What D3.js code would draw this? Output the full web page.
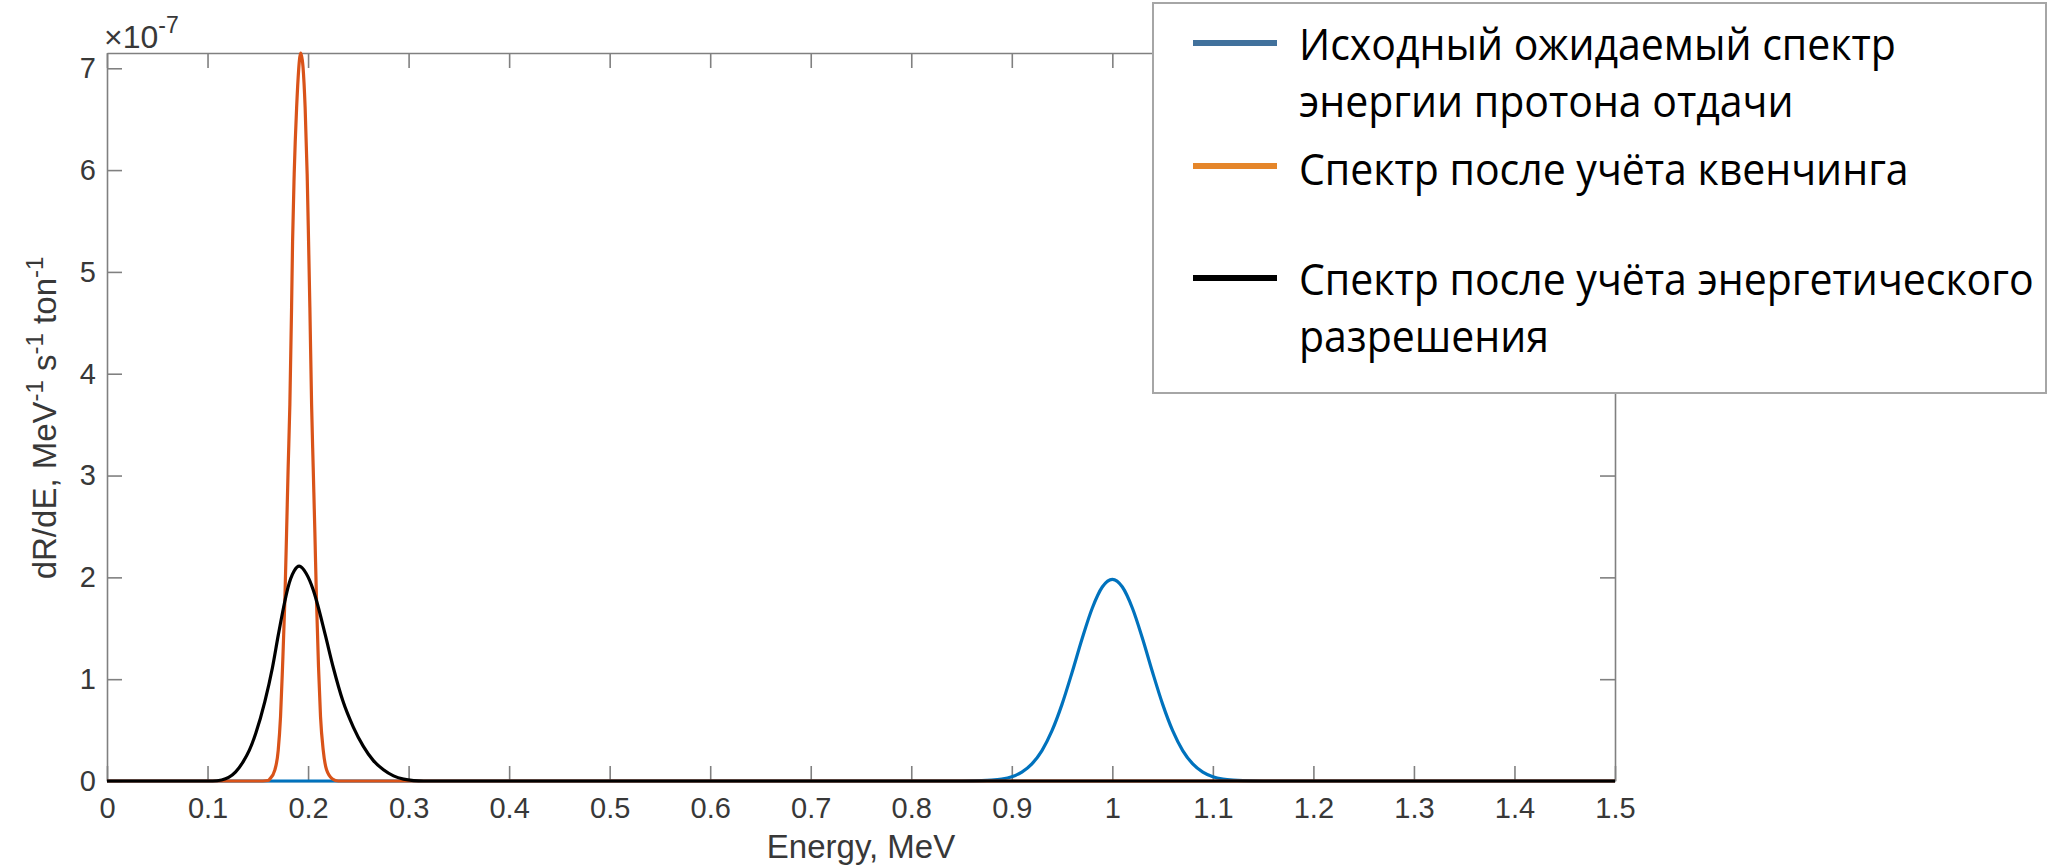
<!DOCTYPE html>
<html><head><meta charset="utf-8">
<script src="https://cdn.jsdelivr.net/npm/d3@7/dist/d3.min.js"></script>
<style>body{margin:0;background:#fff} svg{display:block}</style>
</head><body><svg id="c" width="2062" height="868"></svg>
<script>
// ---- data (y values in units of 1e-7 MeV^-1 s^-1 ton^-1) ----
const xTicks = [0,0.1,0.2,0.3,0.4,0.5,0.6,0.7,0.8,0.9,1.0,1.1,1.2,1.3,1.4,1.5];
const xTickLabels = ["0","0.1","0.2","0.3","0.4","0.5","0.6","0.7","0.8","0.9","1","1.1","1.2","1.3","1.4","1.5"];
const yTicks = [0,1,2,3,4,5,6,7];
const yTickLabels = ["0","1","2","3","4","5","6","7"];

const blueE = [0,0.85,0.87,0.88,0.89,0.90,0.91,0.92,0.93,0.94,0.95,0.96,0.97,0.98,0.99,1.00,1.01,1.02,1.03,1.04,1.05,1.06,1.07,1.08,1.09,1.10,1.11,1.12,1.13,1.15,1.5];
const blueR = [0,0,0.003,0.008,0.019,0.042,0.087,0.168,0.299,0.494,0.755,1.068,1.40,1.697,1.905,1.98,1.905,1.697,1.40,1.068,0.755,0.494,0.299,0.168,0.087,0.042,0.019,0.008,0.003,0,0];

const orangeE = [0,0.150,0.160,0.162,0.167,0.1703,0.1726,0.1746,0.1769,0.1786,0.1802,0.1819,0.1836,0.1846,0.1862,0.1886,0.1928,0.1971,0.1991,0.2005,0.2018,0.2035,0.2051,0.2068,0.2084,0.2104,0.2124,0.2151,0.2184,0.2243,0.230,1.5];
const orangeR = [0,0,0.005,0.02,0.11,0.30,0.63,1.12,1.77,2.43,3.08,3.70,4.65,5.30,5.96,6.61,7.15,6.61,5.96,5.30,4.65,3.70,3.08,2.43,1.77,1.12,0.63,0.30,0.11,0.02,0,0];

const blackE = [0,0.105,0.114,0.121,0.128,0.1355,0.1415,0.148,0.157,0.1645,0.1705,0.177,0.180,0.186,0.1912,0.198,0.205,0.2084,0.217,0.2252,0.2345,0.245,0.255,0.265,0.275,0.285,0.295,0.305,0.315,1.5];
const blackR = [0,0,0.01,0.035,0.09,0.19,0.30,0.47,0.78,1.11,1.44,1.77,1.90,2.06,2.11,2.04,1.88,1.77,1.44,1.11,0.79,0.53,0.34,0.20,0.11,0.05,0.018,0.004,0,0];

const seriesColors = ["#0072BD","#D95319","#000000"];
const legendLines = [["Исходный ожидаемый спектр","энергии протона отдачи"],["Спектр после учёта квенчинга"],["Спектр после учёта энергетического","разрешения"]];
const legendColors = ["#41719C","#E5862A","#000000"];

// ---- chart ----
const svg = d3.select("#c");
const x = d3.scaleLinear().domain([0,1.5]).range([107,1615]);
const y = d3.scaleLinear().domain([0,7.15]).range([781,53]);
const axisColor = "#808080", labColor = "#383838", axFont = "Liberation Sans, Arial, sans-serif";

function styleAxis(g){
  g.selectAll(".domain").attr("stroke",axisColor).attr("stroke-width",1.6);
  g.selectAll(".tick line").attr("stroke",axisColor).attr("stroke-width",1.6);
  g.selectAll(".tick text").attr("fill",labColor).style("font-family",axFont).style("font-size","29px");
}
svg.append("g").attr("transform","translate(0,781)")
  .call(d3.axisBottom(x).tickValues(xTicks).tickFormat((d,i)=>xTickLabels[i]).tickSize(-15).tickSizeOuter(0).tickPadding(16))
  .call(styleAxis);
svg.append("g").attr("transform","translate(0,53)")
  .call(d3.axisTop(x).tickValues(xTicks).tickFormat("").tickSize(-15).tickSizeOuter(0))
  .call(styleAxis);
svg.append("g").attr("transform","translate(107,0)")
  .call(d3.axisLeft(y).tickValues(yTicks).tickFormat((d,i)=>yTickLabels[i]).tickSize(-15).tickSizeOuter(0).tickPadding(11))
  .call(styleAxis);
svg.append("g").attr("transform","translate(1615,0)")
  .call(d3.axisRight(y).tickValues(yTicks).tickFormat("").tickSize(-15).tickSizeOuter(0))
  .call(styleAxis);

// exponent
const ex = svg.append("text").attr("x",104).attr("y",48).attr("fill",labColor)
  .style("font-family",axFont).style("font-size","32px");
ex.append("tspan").text("×10");
ex.append("tspan").attr("dy",-15).style("font-size","23px").text("-7");

// axis labels
svg.append("text").attr("x",861).attr("y",858).attr("text-anchor","middle").attr("fill",labColor)
  .style("font-family",axFont).style("font-size","33px").text("Energy, MeV");
const yl = svg.append("text").attr("transform","translate(56,418) rotate(-90)").attr("text-anchor","middle")
  .attr("fill",labColor).style("font-family",axFont).style("font-size","33px");
yl.append("tspan").text("dR/dE, MeV");
yl.append("tspan").attr("dy",-13).style("font-size","24px").text("-1");
yl.append("tspan").attr("dy",13).text(" s");
yl.append("tspan").attr("dy",-13).style("font-size","24px").text("-1");
yl.append("tspan").attr("dy",13).text(" ton");
yl.append("tspan").attr("dy",-13).style("font-size","24px").text("-1");

// curves
const line = d3.line().x(d=>x(d[0])).y(d=>y(d[1])).curve(d3.curveMonotoneX);
const series = [d3.zip(blueE,blueR), d3.zip(orangeE,orangeR), d3.zip(blackE,blackR)];
series.forEach((s,i)=>{
  svg.append("path").datum(s).attr("d",line).attr("fill","none")
    .attr("stroke",seriesColors[i]).attr("stroke-width",3.2).attr("stroke-linejoin","round");
});

// legend
const lg = svg.append("g");
lg.append("rect").attr("x",1153).attr("y",3).attr("width",893).attr("height",390)
  .attr("fill","#fff").attr("stroke","#a6a6a6").attr("stroke-width",2);
const sampleY = [43,166,278];
const baselines = [[60,117],[185],[295,352]];
legendColors.forEach((c,i)=>{
  lg.append("line").attr("x1",1193).attr("x2",1277).attr("y1",sampleY[i]).attr("y2",sampleY[i])
    .attr("stroke",c).attr("stroke-width",6);
});
const texts = [];
legendLines.forEach((arr,i)=>arr.forEach((t,j)=>{
  const tx = lg.append("text").attr("x",0).attr("y",0).attr("fill","#000")
    .style("font-family","Open Sans, Noto Sans, sans-serif").style("font-size","44px").text(t);
  texts.push({tx, base: baselines[i][j]});
}));
const maxW = d3.max(texts, d=>d.tx.node().getComputedTextLength());
const sx = 735/maxW;
texts.forEach(d=>d.tx.attr("transform",`translate(1299,${d.base}) scale(${sx},1)`));
</script></body></html>
